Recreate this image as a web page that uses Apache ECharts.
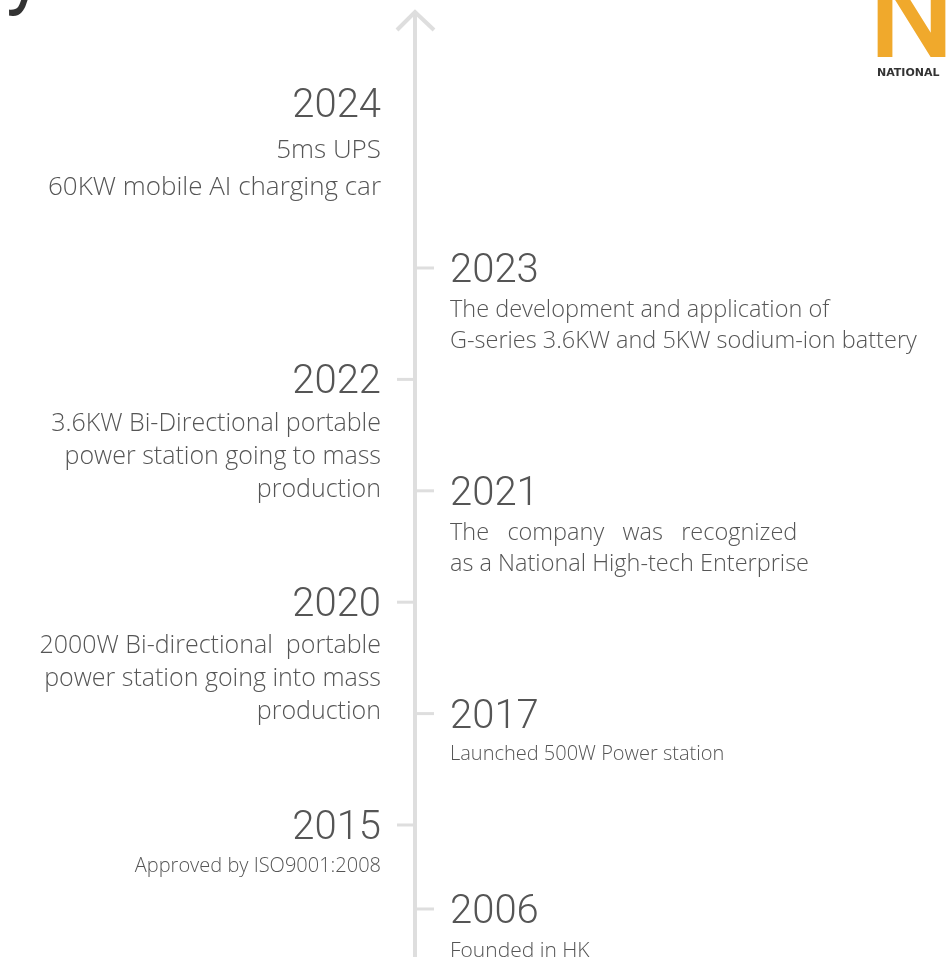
<!DOCTYPE html>
<html>
<head>
<meta charset="utf-8">
<script src="https://cdn.jsdelivr.net/npm/echarts@6/dist/echarts.min.js"></script>
<style>html,body{margin:0;padding:0;background:#fff;}#chart{width:952px;height:966px;}</style>
</head>
<body>
<div id="chart"></div>
<script>
// ---- data ----
const years = ['2024', '2023', '2022', '2021', '2020', '2017', '2015', '2006'];
const sides = ['left', 'right', 'left', 'right', 'left', 'right', 'left', 'right'];
const descriptions = [
  ['5ms UPS', '60KW mobile AI charging car'],
  ['The development and application of', 'G-series 3.6KW and 5KW sodium-ion battery'],
  ['3.6KW Bi-Directional portable', 'power station going to mass', 'production'],
  ['The   company   was   recognized', 'as a National High-tech Enterprise'],
  ['2000W Bi-directional  portable', 'power station going into mass', 'production'],
  ['Launched 500W Power station'],
  ['Approved by ISO9001:2008'],
  ['Founded in HK']
];
const titleText = 'History';
const logoLetter = 'N';
const logoWord = 'NATIONAL';

// ---- styles ----
const Y_MIN = -1.307, Y_MAX = 7.185;
const LINE_COLOR = '#dedede';
const TEXT_COLOR = '#555';
const descSize = {'2024': 26, '2023': 23.5, '2022': 25, '2021': 23.5, '2020': 25, '2017': 20, '2015': 20, '2006': 21};
const tickless = new Set(['2024']);
const itemShift = {'2024': -53.2, '2006': -27.4};
const YEAR_FONT = 'Roboto';
const DESC_FONT = '"Open Sans"';

const chart = echarts.init(document.getElementById('chart'));

function renderEvent(params, api) {
  const i = api.value(1);
  const p = api.coord([0, i]);
  const year = years[i];
  const side = sides[i];
  const fs = descSize[year];
  const cx = p[0];
  const cy = p[1] + (itemShift[year] || 0);
  const children = [];
  if (!tickless.has(year)) {
    const x1 = side === 'left' ? cx - 18 : cx + 1;
    const x2 = side === 'left' ? cx - 1 : cx + 19;
    children.push({type: 'line', shape: {x1: x1, y1: cy, x2: x2, y2: cy},
      style: {stroke: LINE_COLOR, lineWidth: 3}});
  }
  const tx = side === 'left' ? cx - 34 : cx + 35;
  const align = side === 'left' ? 'right' : 'left';
  children.push({type: 'text', style: {text: year, x: tx, y: cy + 4, align: align, verticalAlign: 'middle',
    fontFamily: YEAR_FONT, fontWeight: 300, fontSize: 40, fill: TEXT_COLOR}});
  const first = fs < 22 ? fs + 21 : (fs > 25.5 ? fs + 21 : fs + 19);
  const lh = Math.round(fs * (fs > 25.5 ? 1.42 : 1.33));
  descriptions[i].forEach(function (t, k) {
    children.push({type: 'text', style: {text: t, x: tx, y: cy + first + k * lh, align: align,
      verticalAlign: 'middle', fontFamily: DESC_FONT, fontWeight: 300,
      fontSize: fs, fill: TEXT_COLOR}});
  });
  return {type: 'group', children: children};
}

function renderSpine(params, api) {
  const top = api.coord([0, Y_MIN]);
  const bot = api.coord([0, Y_MAX]);
  return {type: 'group', children: [
    {type: 'line', shape: {x1: top[0], y1: top[1] + 1, x2: bot[0], y2: bot[1]},
      style: {stroke: LINE_COLOR, lineWidth: 4}},
    {type: 'polyline', shape: {points: [[top[0] - 18, top[1] + 19], [top[0], top[1] + 1], [top[0] + 19, top[1] + 19]]},
      style: {stroke: LINE_COLOR, lineWidth: 4, fill: null}}
  ]};
}

chart.setOption({
  backgroundColor: '#fff',
  animation: false,
  grid: {left: 0, right: 122, top: 11, bottom: 9},
  xAxis: {type: 'value', min: -1, max: 1, show: false},
  yAxis: {type: 'value', inverse: true, min: Y_MIN, max: Y_MAX, show: false},
  graphic: [
    {type: 'text', left: -211, top: -61, style: {text: titleText, fontFamily: 'Roboto', fontWeight: 400, fontSize: 80, fill: '#333'}},
    {type: 'text', left: 869, top: -33, style: {text: logoLetter, fontFamily: 'Roboto', fontWeight: 500, fontSize: 120, fill: '#f0a92c'}},
    {type: 'text', left: 877, top: 68, style: {text: logoWord, fontFamily: '"DejaVu Sans"', fontWeight: 'bold', fontSize: 11, fill: '#333'}}
  ],
  series: [
    {type: 'custom', coordinateSystem: 'cartesian2d', clip: false, silent: true,
      data: [[0, Y_MIN]], renderItem: renderSpine},
    {type: 'custom', coordinateSystem: 'cartesian2d', clip: false, silent: true,
      data: years.map(function (y, i) { return [0, i]; }), renderItem: renderEvent}
  ]
});
</script>
</body>
</html>
